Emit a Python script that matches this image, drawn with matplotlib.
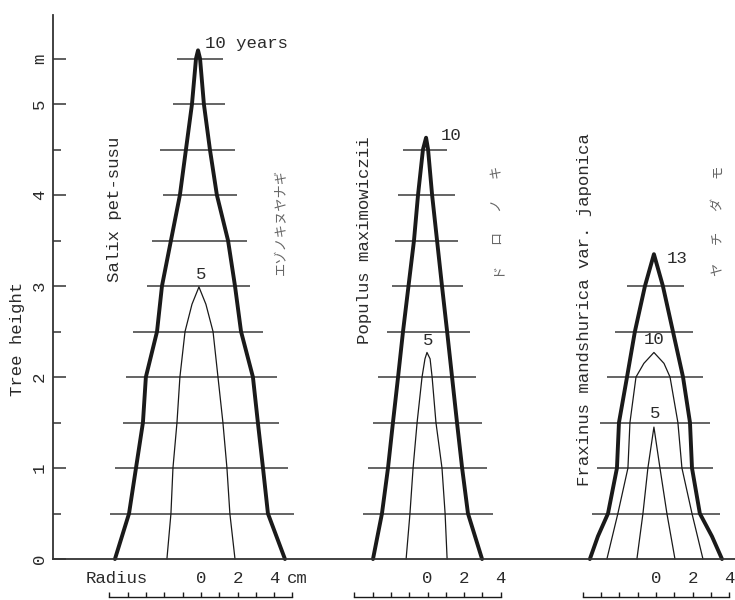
import numpy as np
import matplotlib.pyplot as plt

# stem analysis profiles: height in m, radius in cm (left side negative)
# Salix pet-susu
salix_h10 = [0, 0.5, 1.0, 1.5, 2.0, 2.5, 3.0, 3.5, 4.0, 4.5, 5.0, 5.5, 5.59]
salix_l10 = [-4.70, -3.93, -3.55, -3.17, -3.01, -2.40, -2.13, -1.64, -1.15, -0.82, -0.49, -0.27, -0.16]
salix_r10 = [4.59, 3.66, 3.39, 3.11, 2.84, 2.19, 1.86, 1.48, 0.87, 0.49, 0.16, -0.05, -0.16]
salix_h5 = [0, 0.5, 1.0, 1.5, 2.0, 2.5, 2.8, 2.99]
salix_l5 = [-1.86, -1.64, -1.53, -1.31, -1.15, -0.87, -0.49, -0.11]
salix_r5 = [1.86, 1.58, 1.42, 1.20, 0.93, 0.66, 0.27, -0.11]
salix_disk_h = [0.5, 1.0, 1.5, 2.0, 2.5, 3.0, 3.5, 4.0, 4.5, 5.0, 5.5]
salix_disk_l = [-4.97, -4.70, -4.26, -4.10, -3.72, -2.95, -2.68, -2.08, -2.24, -1.53, -1.31]
salix_disk_r = [5.08, 4.75, 4.26, 4.15, 3.39, 2.68, 2.51, 1.97, 1.86, 1.31, 1.20]

# Populus maximowiczii
pop_h10 = [0, 0.5, 1.0, 1.5, 2.0, 2.5, 3.0, 3.5, 4.0, 4.5, 4.63]
pop_l10 = [-2.98, -2.49, -2.16, -1.89, -1.61, -1.34, -1.04, -0.74, -0.52, -0.25, -0.08]
pop_r10 = [2.98, 2.21, 1.89, 1.61, 1.34, 1.07, 0.79, 0.52, 0.25, 0.03, -0.08]
pop_h5 = [0, 0.5, 1.0, 1.5, 2.0, 2.2, 2.27]
pop_l5 = [-1.17, -0.96, -0.79, -0.57, -0.30, -0.14, -0.03]
pop_r5 = [1.07, 0.96, 0.79, 0.46, 0.25, 0.14, -0.03]
pop_disk_h = [0.5, 1.0, 1.5, 2.0, 2.5, 3.0, 3.5, 4.0, 4.5]
pop_disk_l = [-3.52, -3.25, -2.98, -2.70, -2.21, -1.94, -1.78, -1.61, -1.34]
pop_disk_r = [3.58, 3.25, 2.98, 2.65, 2.32, 1.94, 1.67, 1.50, 1.07]

# Fraxinus mandshurica var. japonica
frax_h13 = [0, 0.25, 0.5, 1.0, 1.5, 2.0, 2.5, 3.0, 3.35]
frax_l13 = [-3.61, -3.17, -2.62, -2.13, -2.02, -1.58, -1.15, -0.60, -0.11]
frax_r13 = [3.61, 3.06, 2.40, 1.97, 1.86, 1.48, 0.93, 0.38, -0.11]
frax_h10 = [0, 0.5, 1.0, 1.5, 2.0, 2.15, 2.27]
frax_l10 = [-2.68, -2.08, -1.53, -1.42, -1.09, -0.66, -0.11]
frax_r10 = [2.57, 1.97, 1.42, 1.20, 0.77, 0.44, -0.11]
frax_h5 = [0, 0.5, 1.0, 1.45]
frax_l5 = [-1.04, -0.71, -0.44, -0.11]
frax_r5 = [1.04, 0.60, 0.22, -0.11]
frax_disk_h = [0.5, 1.0, 1.5, 2.0, 2.5, 3.0]
frax_disk_l = [-3.50, -3.22, -3.06, -2.68, -2.24, -1.58]
frax_disk_r = [3.50, 3.11, 2.95, 2.57, 2.02, 1.53]

height_ticks = [0, 1, 2, 3, 4, 5, 5.5]
height_labels = ['0', '1', '2', '3', '4', '5', 'm']

MONO = 'Liberation Mono'
INK = '#1a1a1a'

fig = plt.figure(figsize=(7.35, 6.0), dpi=100)
ax = fig.add_axes([0, 0, 1, 1])
ax.set_xlim(-10.98, 29.18)
ax.set_ylim(-0.45, 6.143)


def profile(off, h, left, right, lw):
    x = np.concatenate([left, right[::-1]]) + off
    y = np.concatenate([h, h[::-1]])
    ax.plot(x, y, color=INK, lw=lw, solid_joinstyle='round', solid_capstyle='round')


def disks(off, h, left, right):
    ax.hlines(h, np.array(left) + off, np.array(right) + off, color='#3a3a3a', lw=1.1)


def scale_bar(off, lo, hi, yb=-0.418):
    ax.plot([off + lo, off + hi], [yb, yb], color=INK, lw=1.0, clip_on=False)
    ax.vlines(np.arange(lo, hi + 1) + off, yb, yb + 0.055, color=INK, lw=1.0)
    for v in (0, 2, 4):
        ax.text(off + v, -0.21, str(v), family=MONO, fontsize=12.5, color='#2a2a2a',
                ha='center', va='center')


trees = [
    (0.0, [(salix_h10, salix_l10, salix_r10, 2.8), (salix_h5, salix_l5, salix_r5, 0.9)],
     (salix_disk_h, salix_disk_l, salix_disk_r)),
    (12.38, [(pop_h10, pop_l10, pop_r10, 2.8), (pop_h5, pop_l5, pop_r5, 0.9)],
     (pop_disk_h, pop_disk_l, pop_disk_r)),
    (24.86, [(frax_h13, frax_l13, frax_r13, 2.8), (frax_h10, frax_l10, frax_r10, 0.9),
             (frax_h5, frax_l5, frax_r5, 0.9)],
     (frax_disk_h, frax_disk_l, frax_disk_r)),
]

for off, profs, (dh, dl, dr) in trees:
    disks(off, dh, dl, dr)
    for h, l, r, lw in profs:
        profile(off, np.array(h), np.array(l), np.array(r), lw)

scale_bar(0.0, -5, 5)
scale_bar(12.38, -4, 4)
scale_bar(24.86, -4, 4)
ax.text(4.7, -0.21, 'cm', family=MONO, fontsize=12.5, color='#2a2a2a', ha='left', va='center')
ax.text(-4.6, -0.21, 'Radius', family=MONO, fontsize=12.5, color='#2a2a2a', ha='center', va='center')

# age labels
txt = dict(family=MONO, fontsize=12.5, color='#2a2a2a')
ax.text(0.2, 5.66, '10 years', ha='left', va='center', **txt)
ax.text(0.0, 3.13, '5', ha='center', va='center', **txt)
ax.text(12.38 + 0.7, 4.65, '10', ha='left', va='center', **txt)
ax.text(12.38 + 0.05, 2.4, '5', ha='center', va='center', **txt)
ax.text(24.86 + 0.6, 3.30, '13', ha='left', va='center', **txt)
ax.text(24.86 - 0.1, 2.41, '10', ha='center', va='center', **txt)
ax.text(24.86 - 0.05, 1.6, '5', ha='center', va='center', **txt)

# species names
ax.text(-4.7, 3.84, 'Salix pet-susu', rotation=90, ha='center', va='center', **txt)
ax.text(8.96, 3.5, 'Populus maximowiczii', rotation=90, ha='center', va='center', **txt)
ax.text(20.98, 2.74, 'Fraxinus mandshurica var. japonica', rotation=90, ha='center', va='center', **txt)
ax.text(-10.0, 2.42, 'Tree height', rotation=90, ha='center', va='center', **txt)

jp = dict(family=['Noto Sans CJK JP', 'DejaVu Sans'], color='#666', fontsize=9.5)
ax.text(4.43, 3.70, 'エゾノキヌヤナギ', rotation=90, ha='center', va='center', **jp)
for k, ch in enumerate('ドロノキ'):
    ax.text(16.17, 3.18 + 0.36 * k, ch, rotation=90, ha='center', va='center', **jp)
for k, ch in enumerate('ヤチダモ'):
    ax.text(28.25, 3.18 + 0.36 * k, ch, rotation=90, ha='center', va='center', **jp)

# axes
for s in ('top', 'right'):
    ax.spines[s].set_visible(False)
ax.spines['left'].set_position(('data', -8.1))
ax.spines['left'].set_bounds(0, 5.98)
ax.spines['bottom'].set_position(('data', 0))
ax.spines['bottom'].set_bounds(-8.1, 29.18)
for s in ('left', 'bottom'):
    ax.spines[s].set_color('#333')
    ax.spines[s].set_linewidth(1.3)
ax.set_xticks([])
ax.set_yticks(height_ticks)
ax.set_yticklabels(height_labels, rotation=90, family=MONO, fontsize=12.5, color='#2a2a2a', va='center')
ax.set_yticks(np.arange(0.5, 5.0, 1.0), minor=True)
ax.tick_params(axis='y', which='major', direction='in', length=9, width=1.1, pad=4, color='#333')
ax.tick_params(axis='y', which='minor', direction='in', length=6, width=1.1, color='#333')

fig.savefig('out.png', dpi=100)
